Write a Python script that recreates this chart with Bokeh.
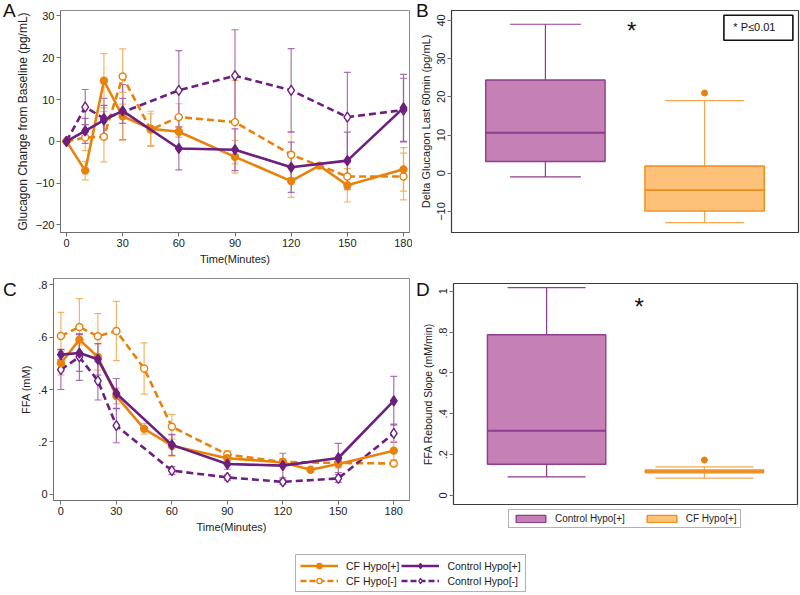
from bokeh.plotting import figure
from bokeh.layouts import column, row
from bokeh.models import (ColumnDataSource, Whisker, TeeHead, Label, Legend, LegendItem,
                          FixedTicker, Range1d, Div, GridBox)
from bokeh.embed import file_html
from bokeh.resources import INLINE

FONT = "Liberation Sans"
ORANGE = "#E8820E"
PURPLE = "#6C1F7D"
ORANGE_ERR = "#F2A850"
PURPLE_ERR = "#9D58A6"
BOX_PURPLE = "#C580B5"
BOX_PURPLE_LINE = "#8E3D8F"
BOX_ORANGE = "#FDC17A"
BOX_ORANGE_LINE = "#EE8C1C"

# ---------------- data ----------------
time_ticks = [0, 30, 60, 90, 120, 150, 180]

# Panel A: glucagon change from baseline (pg/mL)
t_cf_pos = [0, 10, 20, 30, 45, 60, 90, 120, 135, 150, 180]
t_cf_neg = [0, 10, 20, 30, 45, 60, 90, 120, 150, 180]
t_ctrl = [0, 10, 20, 30, 60, 90, 120, 150, 180]

glu_cf_pos = [0, -7.0, 14.5, 6.0, 3.0, 2.3, -3.7, -9.5, -5.8, -10.5, -6.7]
glu_cf_pos_se = [0, 2.2, 6.5, 5.7, 4.2, 1.3, 3.9, 3.9, 0.5, 4.0, 5.2]
glu_cf_neg = [0, 0.9, 1.1, 15.5, 2.8, 5.8, 4.6, -3.2, -8.4, -8.4]
glu_cf_neg_se = [0, 3.1, 6.0, 6.6, 3.8, 3.2, 10.0, 5.5, 3.2, 5.6]
glu_ctrl_pos = [0, 2.5, 5.1, 7.3, -1.7, -2.0, -6.2, -4.6, 8.0]
glu_ctrl_pos_se = [0, 3.0, 3.5, 3.0, 5.1, 5.0, 6.0, 6.8, 8.0]
glu_ctrl_neg = [0, 8.2, 5.5, 7.0, 12.2, 15.7, 12.2, 5.8, 7.5]
glu_ctrl_neg_se = [0, 4.2, 4.8, 6.6, 9.5, 11.0, 10.0, 10.7, 7.6]
glu_ticks = [-20, -10, 0, 10, 20, 30]

# Panel C: FFA (mM)
ffa_cf_pos = [0.50, 0.59, 0.524, 0.375, 0.25, 0.186, 0.138, 0.122, 0.094, 0.116, 0.167]
ffa_cf_pos_se = [0.045, 0.02, 0.05, 0.03, 0.02, 0.04, 0.015, 0.015, 0.005, 0.015, 0.035]
ffa_cf_neg = [0.604, 0.638, 0.603, 0.623, 0.48, 0.258, 0.152, 0.124, 0.12, 0.118]
ffa_cf_neg_se = [0.09, 0.108, 0.086, 0.113, 0.098, 0.047, 0.015, 0.01, 0.01, 0.01]
ffa_ctrl_pos = [0.533, 0.539, 0.515, 0.385, 0.189, 0.116, 0.11, 0.139, 0.357]
ffa_ctrl_pos_se = [0.02, 0.07, 0.06, 0.057, 0.04, 0.02, 0.047, 0.056, 0.093]
ffa_ctrl_neg = [0.476, 0.524, 0.433, 0.262, 0.091, 0.065, 0.048, 0.061, 0.233]
ffa_ctrl_neg_se = [0.076, 0.089, 0.073, 0.065, 0.015, 0.01, 0.01, 0.015, 0.035]
ffa_ticks = [0, 0.2, 0.4, 0.6, 0.8]
ffa_tick_labels = ["0", ".2", ".4", ".6", ".8"]

# Panel B: box plot, delta glucagon last 60 min (pg/mL)
box_groups = ["Control Hypo[+]", "CF Hypo[+]"]
box_pos = [1, 2]
glu_box_low = [-0.95, -12.9]
glu_box_q1 = [3.1, -9.9]
glu_box_med = [10.6, -4.4]
glu_box_q3 = [24.4, 1.9]
glu_box_high = [39.0, 19.0]
glu_out_x = [2]
glu_out_y = [21.0]
glu_box_ticks = [-10, 0, 10, 20, 30, 40]

# Panel D: box plot, FFA rebound slope
ffa_box_low = [0.091, 0.085]
ffa_box_q1 = [0.153, 0.111]
ffa_box_med = [0.317, 0.117]
ffa_box_q3 = [0.787, 0.125]
ffa_box_high = [1.018, 0.14]
ffa_out_x = [2]
ffa_out_y = [0.174]
ffa_box_ticks = [0, 0.2, 0.4, 0.6, 0.8, 1.0]
ffa_box_tick_labels = ["0", ".2", ".4", ".6", ".8", "1"]

series_names = ["CF Hypo[+]", "CF Hypo[-]", "Control Hypo[+]", "Control Hypo[-]"]
panel_letters = ["A", "B", "C", "D"]

box_fill = [BOX_PURPLE, BOX_ORANGE]
box_line = [BOX_PURPLE_LINE, BOX_ORANGE_LINE]
box_whisk = [BOX_PURPLE_LINE, "#F2A850"]

BOX_W = 0.75


def style_axes(p, ylabel_size="11px"):
    p.background_fill_color = "white"
    p.border_fill_color = "white"
    p.xgrid.visible = False
    p.ygrid.visible = False
    for ax in p.axis:
        ax.major_label_text_font = FONT
        ax.major_label_text_font_size = "11px"
        ax.major_label_text_color = "#222222"
        ax.axis_label_text_font = FONT
        ax.axis_label_text_font_size = "11px"
        ax.axis_label_text_font_style = "normal"
        ax.axis_label_text_color = "#222222"
        ax.minor_tick_line_color = None
        ax.major_tick_in = 0
        ax.major_tick_out = 4
        ax.major_label_standoff = 2
        ax.axis_label_standoff = 3
        ax.axis_line_color = "#6e6e6e"
        ax.major_tick_line_color = "#6e6e6e"
    p.yaxis.axis_label_text_font_size = ylabel_size


def add_series(p, t, y, se, color, err_color, dashed, marker, filled, msize):
    lo = [a - b for a, b in zip(y, se)]
    hi = [a + b for a, b in zip(y, se)]
    src = ColumnDataSource(dict(t=t, y=y, lo=lo, hi=hi))
    w = Whisker(base="t", upper="hi", lower="lo", source=src, line_color=err_color,
                line_width=1.2, line_alpha=0.85,
                upper_head=TeeHead(size=7, line_color=err_color, line_width=1.2, line_alpha=0.85),
                lower_head=TeeHead(size=7, line_color=err_color, line_width=1.2, line_alpha=0.85))
    p.add_layout(w)
    p.line("t", "y", source=src, line_color=color, line_width=2.6,
           line_dash="7 4" if dashed else "solid")
    p.scatter("t", "y", source=src, marker=marker, size=msize,
              fill_color=color if filled else "white", line_color=color, line_width=1.4)


def time_panel(p, series, yticks, ylabel, ticklabels=None, ylabel_size="11px"):
    style_axes(p, ylabel_size)
    p.outline_line_color = "#8c8c8c"
    p.xaxis.ticker = FixedTicker(ticks=time_ticks)
    p.yaxis.ticker = FixedTicker(ticks=yticks)
    if ticklabels is not None:
        p.yaxis.major_label_overrides = {v: s for v, s in zip(yticks, ticklabels)}
    p.xaxis.axis_label = "Time(Minutes)"
    p.yaxis.axis_label = ylabel
    for s in series:
        add_series(p, *s)


def box_panel(p, low, q1, med, q3, high, out_x, out_y, yticks, ylabel, caps,
              ticklabels=None, ylabel_size="11px"):
    style_axes(p, ylabel_size)
    p.outline_line_color = "#3a3a3a"
    p.outline_line_width = 1.2
    p.xaxis.visible = False
    p.yaxis.ticker = FixedTicker(ticks=yticks)
    p.yaxis.major_label_orientation = "vertical"
    p.yaxis.axis_line_color = "#3a3a3a"
    if ticklabels is not None:
        p.yaxis.major_label_overrides = {v: s for v, s in zip(yticks, ticklabels)}
    p.yaxis.axis_label = ylabel
    src = ColumnDataSource(dict(x=box_pos, low=low, q1=q1, med=med, q3=q3, high=high,
                                fill=box_fill, line=box_line, wc=box_whisk,
                                mx0=[x - BOX_W / 2 for x in box_pos],
                                mx1=[x + BOX_W / 2 for x in box_pos]))
    for i in range(len(box_pos)):
        view = ColumnDataSource(dict(x=[box_pos[i]], low=[low[i]], q1=[q1[i]], q3=[q3[i]], high=[high[i]]))
        p.add_layout(Whisker(base="x", upper="high", lower="q3", source=view, line_color=box_whisk[i],
                             line_width=1.2, lower_head=None,
                             upper_head=TeeHead(size=caps[i], line_color=box_whisk[i], line_width=1.2)))
        p.add_layout(Whisker(base="x", upper="q1", lower="low", source=view, line_color=box_whisk[i],
                             line_width=1.2, upper_head=None,
                             lower_head=TeeHead(size=caps[i], line_color=box_whisk[i], line_width=1.2)))
    bars = p.vbar(x="x", width=BOX_W, top="q3", bottom="q1", source=src,
                  fill_color="fill", line_color="line", line_width=1.4)
    p.segment(x0="mx0", y0="med", x1="mx1", y1="med", source=src, line_color="line", line_width=1.8)
    p.scatter(out_x, out_y, marker="circle", size=6, fill_color=ORANGE, line_color=ORANGE)
    return bars


def legend_fig(width, height):
    f = figure(width=width, height=height, output_backend="svg", toolbar_location=None,
               x_axis_type=None, y_axis_type=None, min_border=0,
               x_range=Range1d(-1001, -1000), y_range=Range1d(-1001, -1000))
    f.outline_line_color = None
    f.background_fill_color = "white"
    f.border_fill_color = "white"
    f.xgrid.visible = False
    f.ygrid.visible = False
    return f


# ---------------- Panel A ----------------
pA = figure(width=412, height=268, x_range=Range1d(-3.2, 183.2), y_range=Range1d(-21.8, 31.3),
            output_backend="svg", toolbar_location=None,
            min_border_left=60, min_border_right=3, min_border_top=10, min_border_bottom=35)
time_panel(pA, [
    (t_cf_neg, glu_cf_neg, glu_cf_neg_se, ORANGE, ORANGE_ERR, True, "circle", False, 7),
    (t_ctrl, glu_ctrl_neg, glu_ctrl_neg_se, PURPLE, PURPLE_ERR, True, "diamond", False, 10),
    (t_cf_pos, glu_cf_pos, glu_cf_pos_se, ORANGE, ORANGE_ERR, False, "circle", True, 7),
    (t_ctrl, glu_ctrl_pos, glu_ctrl_pos_se, PURPLE, PURPLE_ERR, False, "diamond", True, 10),
], glu_ticks, "Glucagon Change from Baseline (pg/mL)", ylabel_size="12px")

# ---------------- Panel B ----------------
pB = figure(width=388, height=268, x_range=Range1d(0.41, 2.59), y_range=Range1d(-15.5, 42.6),
            output_backend="svg", toolbar_location=None,
            min_border_left=39, min_border_right=2, min_border_top=7, min_border_bottom=36)
box_panel(pB, glu_box_low, glu_box_q1, glu_box_med, glu_box_q3, glu_box_high,
          glu_out_x, glu_out_y, glu_box_ticks, "Delta Glucagon Last 60min (pg/mL)", [71, 79])
pB.add_layout(Label(x=1.542, y=37.4, text="*", text_font=FONT, text_font_size="24px",
                    text_align="center", text_baseline="middle", text_color="#111111"))
pB.rect(x=[2.338], y=[38.08], width=69, height=25, width_units="screen", height_units="screen",
        fill_color="white", line_color="#111111", line_width=1.6)
pB.add_layout(Label(x=2.313, y=38.3, text="* P≤0.01", text_font=FONT, text_font_size="11px",
                    text_align="center", text_baseline="middle", text_color="#111111"))

# ---------------- Panel C ----------------
pC = figure(width=412, height=267, x_range=Range1d(-4, 188.5), y_range=Range1d(-0.023, 0.823),
            output_backend="svg", toolbar_location=None,
            min_border_left=53, min_border_right=3, min_border_top=10, min_border_bottom=34)
time_panel(pC, [
    (t_cf_neg, ffa_cf_neg, ffa_cf_neg_se, ORANGE, ORANGE_ERR, True, "circle", False, 7),
    (t_ctrl, ffa_ctrl_neg, ffa_ctrl_neg_se, PURPLE, PURPLE_ERR, True, "diamond", False, 10),
    (t_cf_pos, ffa_cf_pos, ffa_cf_pos_se, ORANGE, ORANGE_ERR, False, "circle", True, 7),
    (t_ctrl, ffa_ctrl_pos, ffa_ctrl_pos_se, PURPLE, PURPLE_ERR, False, "diamond", True, 10),
], ffa_ticks, "FFA (mM)", ffa_tick_labels)

# ---------------- Panel D ----------------
pD = figure(width=388, height=238, x_range=Range1d(0.41, 2.59), y_range=Range1d(-0.044, 1.038),
            output_backend="svg", toolbar_location=None,
            min_border_left=41, min_border_right=3, min_border_top=15, min_border_bottom=2)
box_panel(pD, ffa_box_low, ffa_box_q1, ffa_box_med, ffa_box_q3, ffa_box_high,
          ffa_out_x, ffa_out_y, ffa_box_ticks, "FFA Rebound Slope (mM/min)", [78, 98],
          ffa_box_tick_labels, ylabel_size="10.5px")
pD.add_layout(Label(x=1.586, y=0.927, text="*", text_font=FONT, text_font_size="24px",
                    text_align="center", text_baseline="middle", text_color="#111111"))

# legend strip under panel D (its frame is aligned with panel D's frame)
pDL = legend_fig(388, 29)
proxy = pDL.vbar(x=box_pos, width=BOX_W, top=ffa_box_q3, bottom=ffa_box_q1,
                 fill_color=box_fill, line_color=box_line, line_width=1.4)
legD = Legend(items=[LegendItem(label=box_groups[0], renderers=[proxy], index=0),
                     LegendItem(label=box_groups[1], renderers=[proxy], index=1)],
              orientation="horizontal", location=(55, 7),
              label_text_font=FONT, label_text_font_size="10px", label_text_color="#222222",
              glyph_width=37, glyph_height=9, label_standoff=6, spacing=18,
              padding=3, margin=0, border_line_color="#666666", label_height=10)
pDL.add_layout(legD)

# ---------------- bottom legend ----------------
pL = legend_fig(800, 60)
items = []
specs = [(t_cf_pos, glu_cf_pos, ORANGE, False, "circle", True, 7),
         (t_cf_neg, glu_cf_neg, ORANGE, True, "circle", False, 7),
         (t_ctrl, glu_ctrl_pos, PURPLE, False, "diamond", True, 10),
         (t_ctrl, glu_ctrl_neg, PURPLE, True, "diamond", False, 10)]
for lab, (tt, yy, col, dashed, mk, filled, ms) in zip(series_names, specs):
    l = pL.line(x=tt, y=yy, line_color=col, line_width=2.6, line_dash="6 3" if dashed else "solid")
    s = pL.scatter(x=tt, y=yy, marker=mk, size=ms, fill_color=col if filled else "white",
                   line_color=col, line_width=1.3)
    items.append(LegendItem(label=lab, renderers=[l, s]))
legL = Legend(items=items, orientation="vertical", ncols=2, location=(295, 3),
              label_text_font=FONT, label_text_font_size="10.5px", label_text_color="#222222",
              glyph_width=38, glyph_height=13, label_height=13, label_standoff=8, spacing=2,
              padding=4, margin=0, border_line_color="#666666")
pL.add_layout(legL)

base = column(row(pA, pB, spacing=0),
              row(pC, column(pD, pDL, spacing=0), spacing=0),
              pL, spacing=0)

# ---------------- panel letters (HTML overlay) ----------------
letter_xy = [(3, 1), (416, 1), (3, 280), (416, 280)]
spans = "".join(
    f'<span style="position:absolute;left:{lx}px;top:{ly}px;font-family:\'{FONT}\';'
    f'font-size:19px;line-height:20px;color:#111111;">{txt}</span>'
    for txt, (lx, ly) in zip(panel_letters, letter_xy))
letters = Div(text=f'<div style="position:relative;width:800px;height:595px;">{spans}</div>',
              width=800, height=595, margin=0, styles={"pointer-events": "none"})

layout = GridBox(children=[(base, 0, 0), (letters, 0, 0)], spacing=0)
open("out.html", "w").write(file_html(layout, INLINE))
